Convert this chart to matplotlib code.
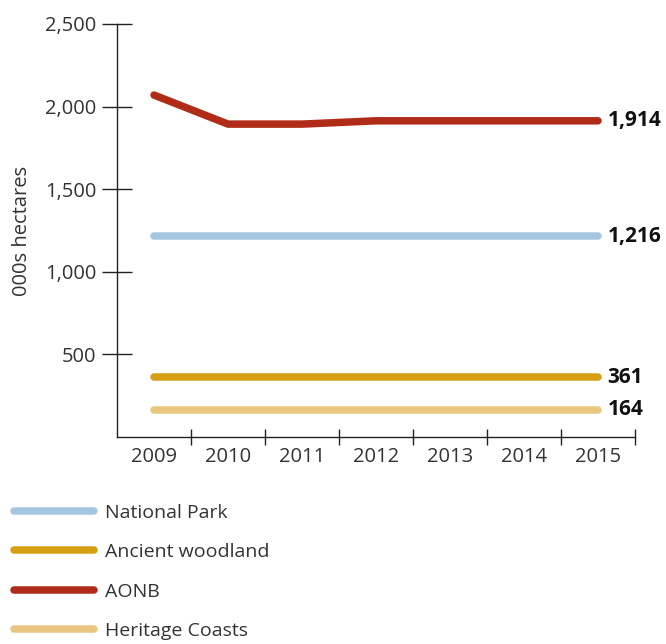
import matplotlib
matplotlib.use("Agg")
from matplotlib import pyplot as plt
from matplotlib.ticker import FuncFormatter

plt.rcParams['font.family'] = ['Open Sans', 'DejaVu Sans']

years = ['2009', '2010', '2011', '2012', '2013', '2014', '2015']
national_park = [1216, 1216, 1216, 1216, 1216, 1216, 1216]
ancient_woodland = [361, 361, 361, 361, 361, 361, 361]
aonb = [2070, 1894, 1894, 1914, 1914, 1914, 1914]
heritage_coasts = [164, 164, 164, 164, 164, 164, 164]

series = [
    ('National Park', national_park, '#a5c6e0'),
    ('Ancient woodland', ancient_woodland, '#d69e12'),
    ('AONB', aonb, '#b02c18'),
    ('Heritage Coasts', heritage_coasts, '#e9c780'),
]

fig = plt.figure(figsize=(6.66, 6.44), dpi=100)
ax = fig.add_axes([117 / 666, 1 - 437 / 644, 518 / 666, 413 / 644])

x = list(range(len(years)))
for name, vals, color in series:
    ax.plot(x, vals, color=color, lw=5.4, solid_capstyle='round',
            solid_joinstyle='round', label=name)
    ax.text(len(years) - 1 + 0.13, vals[-1], f"{vals[-1]:,}", fontsize=15,
            fontweight='bold', va='center', ha='left', color='#111111')

ax.set_xlim(-0.5, len(years) - 0.5)
ax.set_ylim(0, 2500)
ax.set_yticks([500, 1000, 1500, 2000, 2500])
ax.yaxis.set_major_formatter(FuncFormatter(lambda v, p: f"{int(v):,}"))
ax.set_xticks(x)
ax.set_xticklabels(years)
ax.set_xticks([i + 0.5 for i in x], minor=True)
ax.tick_params(axis='x', which='major', length=0, pad=7, labelsize=14.5, colors='#333333')
ax.tick_params(axis='x', which='minor', length=12, direction='inout', width=1, color='#222222')
ax.tick_params(axis='y', length=22, direction='inout', width=1, pad=4,
               labelsize=14.5, colors='#222222', labelcolor='#333333')
for s in ['top', 'right']:
    ax.spines[s].set_visible(False)
for s in ['left', 'bottom']:
    ax.spines[s].set_color('#222222')
    ax.spines[s].set_linewidth(1)
ax.set_ylabel('000s hectares', fontsize=14.5, color='#333333')
ax.yaxis.set_label_coords(-0.165, 0.5)

fig.legend(loc='upper left', bbox_to_anchor=(0.01, 1 - 496 / 644), frameon=False,
           fontsize=14, handlelength=4.1, handletextpad=0.55, labelspacing=1.1,
           borderaxespad=0, labelcolor='#333333')

fig.savefig('out.png', dpi=100)
